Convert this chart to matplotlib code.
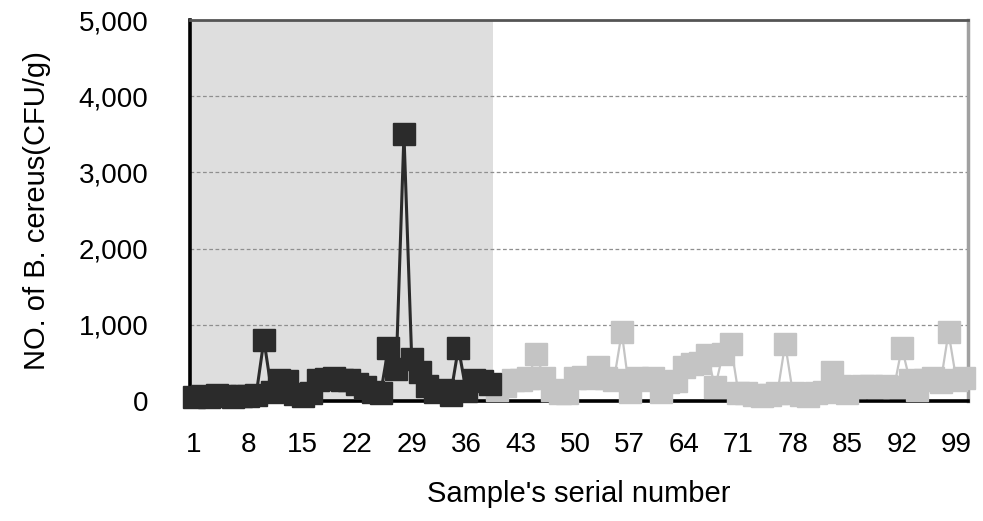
"""B. cereus counts per sample (line chart, 100 samples)"""
import matplotlib
matplotlib.use('Agg')
import matplotlib.pyplot as plt
import numpy as np

plt.rcParams['font.family'] = ['Liberation Sans', 'DejaVu Sans']

# samples 1-39 (shaded group) and 40-100
group1_x = np.arange(1, 40)
group1_y = [50, 60, 50, 80, 60, 50, 70, 60, 80, 800,
            120, 280, 260, 90, 60, 100, 280, 290, 300, 280,
            270, 220, 180, 120, 100, 700, 420, 3500, 550, 380,
            200, 120, 150, 80, 700, 130, 280, 260, 220]

group2_x = np.arange(40, 101)
group2_y = [150, 200, 280, 280, 300, 620, 300, 150, 100, 100,
            300, 320, 300, 450, 300, 280, 900, 120, 300, 280,
            300, 120, 250, 260, 450, 480, 500, 600, 180, 620,
            750, 100, 100, 80, 60, 80, 100, 750, 100, 80,
            60, 100, 120, 380, 200, 100, 180, 200, 200, 180,
            200, 180, 700, 280, 150, 280, 300, 250, 900, 280,
            300]

xticks = list(range(1, 100, 7))
yticks = [0, 1000, 2000, 3000, 4000, 5000]

fig = plt.figure(figsize=(9.83, 5.21), dpi=100)
ax = fig.add_axes([0.1933, 0.2303, 0.7914, 0.7313])

ax.axvspan(0.5, 39.5, color='#dedede', zorder=0, lw=0)
ax.set_xlim(0.5, 100.5)
ax.set_ylim(0, 5000)

for y in yticks[1:-1]:
    ax.axhline(y, color='#8f8f8f', lw=0.9, ls=(0, (3, 2)), zorder=1)

ax.plot(group2_x, group2_y, color='#c4c4c4', lw=1.6, marker='s', ms=16,
        mec='#c4c4c4', mfc='#c4c4c4', zorder=3, clip_on=False)
ax.plot(group1_x, group1_y, color='#2b2b2b', lw=2.2, marker='s', ms=16,
        mec='#2b2b2b', mfc='#2b2b2b', zorder=4, clip_on=False)

ax.set_xticks(xticks)
ax.set_yticks(yticks)
ax.set_yticklabels([f'{v:,}' for v in yticks])
ax.tick_params(axis='both', length=0, labelsize=20)
ax.tick_params(axis='y', pad=30)
ax.tick_params(axis='x', pad=22)

ax.spines['left'].set_linewidth(2.6)
ax.spines['left'].set_color('black')
ax.spines['bottom'].set_linewidth(2.6)
ax.spines['bottom'].set_color('black')
ax.spines['top'].set_linewidth(2)
ax.spines['top'].set_color('#555555')
ax.spines['right'].set_linewidth(2.5)
ax.spines['right'].set_color('#a0a0a0')

ax.set_ylabel('NO. of B. cereus(CFU/g)', fontsize=21, labelpad=20)
ax.set_xlabel("Sample's serial number", fontsize=21, labelpad=16)

plt.savefig('out.png', dpi=100)
plt.close()
